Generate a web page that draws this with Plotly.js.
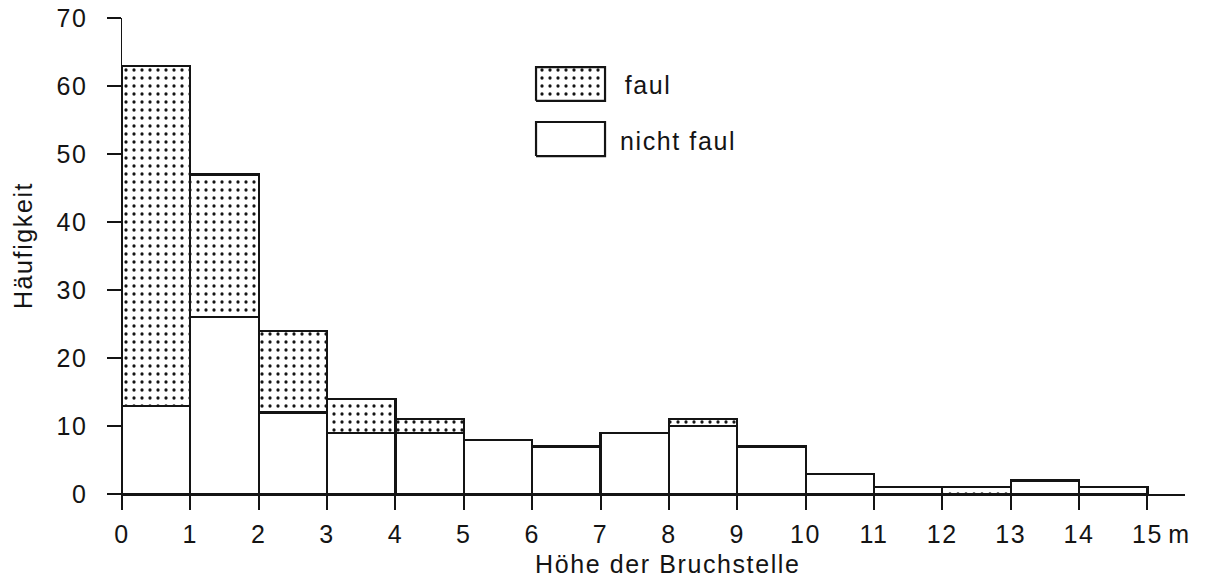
<!DOCTYPE html>
<html>
<head>
<meta charset="utf-8">
<script src="https://cdn.plot.ly/plotly-3.0.1.min.js"></script>
<style>
html,body{margin:0;padding:0;background:#fff;}
#chart{width:1214px;height:580px;}
#chart text{letter-spacing:1.6px;}
</style>
</head>
<body>
<div id="chart"></div>
<script>
// Data: histogram bins (Höhe der Bruchstelle, m) and counts
const binStarts = [0,1,2,3,4,5,6,7,8,9,10,11,12,13,14];
const binWidth = 1;
const nichtFaul = [13,26,12,9,9,8,7,9,10,7,3,1,0,2,1];
const faul      = [50,21,12,5,2,0,0,0,1,0,0,0,1,0,0];
const xTickVals = [0,1,2,3,4,5,6,7,8,9,10,11,12,13,14,15];
const xTickText = ['0','1','2','3','4','5','6','7','8','9','10','11','12','13','14','15'];
const yTickVals = [0,10,20,30,40,50,60,70];
const seriesNames = ['faul','nicht faul'];

const FONT = 'Liberation Sans, Arial, Helvetica, sans-serif';
const FS = 25;
const INK = '#141414';
const centers = binStarts.map(s => s + binWidth/2);

const dotPattern = {shape: '.', bgcolor: '#ffffff', fgcolor: INK, size: 8, solidity: 0.13, fillmode: 'replace'};

// legend key boxes, in the overlay axis (0..1 of plot area)
const LEG = {x0: 0.3895, x1: 0.4544, faulY: [0.826, 0.897], nichtY: [0.710, 0.7815], textX: 0.4741};

const traces = [
  {type: 'bar', x: centers, y: nichtFaul, width: binWidth, name: seriesNames[1],
   marker: {color: '#ffffff', line: {color: INK, width: 2.2}}, showlegend: false, hoverinfo: 'skip'},
  {type: 'bar', x: centers, y: faul, width: binWidth, name: seriesNames[0],
   marker: {color: '#ffffff', pattern: dotPattern, line: {color: INK, width: 2.2}}, showlegend: false, hoverinfo: 'skip'},
  {type: 'scatter', xaxis: 'x2', yaxis: 'y2', mode: 'lines', fill: 'toself', fillcolor: '#ffffff',
   fillpattern: dotPattern,
   x: [LEG.x0, LEG.x1, LEG.x1, LEG.x0, LEG.x0], y: [LEG.faulY[0], LEG.faulY[0], LEG.faulY[1], LEG.faulY[1], LEG.faulY[0]],
   line: {color: INK, width: 2.2}, showlegend: false, hoverinfo: 'skip'},
  {type: 'scatter', xaxis: 'x2', yaxis: 'y2', mode: 'lines', fill: 'toself', fillcolor: '#ffffff',
   x: [LEG.x0, LEG.x1, LEG.x1, LEG.x0, LEG.x0], y: [LEG.nichtY[0], LEG.nichtY[0], LEG.nichtY[1], LEG.nichtY[1], LEG.nichtY[0]],
   line: {color: INK, width: 2.2}, showlegend: false, hoverinfo: 'skip'}
];

const txt = {family: FONT, size: FS, color: INK};

const layout = {
  width: 1214, height: 580,
  margin: {l: 122, r: 29, t: 18, b: 86},
  paper_bgcolor: '#ffffff', plot_bgcolor: '#ffffff',
  barmode: 'stack', bargap: 0,
  font: txt,
  xaxis: {
    range: [0, 15.55], tickvals: xTickVals, ticktext: xTickText,
    showgrid: false, zeroline: false, showline: true, linecolor: INK, linewidth: 2,
    ticks: 'outside', ticklen: 14, tickwidth: 2, tickcolor: INK,
    tickfont: txt, ticklabelstandoff: 3
  },
  yaxis: {
    range: [0, 70], tickvals: yTickVals,
    showgrid: false, zeroline: false, showline: true, linecolor: INK, linewidth: 1.5,
    ticks: 'outside', ticklen: 14, tickwidth: 1.5, tickcolor: INK,
    tickfont: txt, ticklabelstandoff: 14
  },
  xaxis2: {overlaying: 'x', range: [0, 1], visible: false, fixedrange: true},
  yaxis2: {overlaying: 'y', range: [0, 1], visible: false, fixedrange: true},
  annotations: [
    {text: 'Höhe der Bruchstelle', xref: 'paper', yref: 'paper', x: 0.5127, y: -0.148,
     xanchor: 'center', yanchor: 'middle', showarrow: false, font: txt},
    {text: 'Häufigkeit', xref: 'paper', yref: 'paper', x: -0.0931, y: 0.521, textangle: -90,
     xanchor: 'center', yanchor: 'middle', showarrow: false, font: txt},
    {text: 'm', xref: 'x', yref: 'paper', x: 15, y: -0.084, xshift: 20,
     xanchor: 'left', yanchor: 'middle', showarrow: false, font: txt},
    {text: seriesNames[0], xref: 'paper', yref: 'paper', x: LEG.textX, y: 0.859,
     xanchor: 'left', yanchor: 'middle', showarrow: false, font: txt},
    {text: seriesNames[1], xref: 'paper', yref: 'paper', x: LEG.textX, y: 0.7416,
     xanchor: 'left', yanchor: 'middle', showarrow: false, font: txt}
  ],
  showlegend: false
};

Plotly.newPlot('chart', traces, layout, {displayModeBar: false, staticPlot: true});
</script>
</body>
</html>
